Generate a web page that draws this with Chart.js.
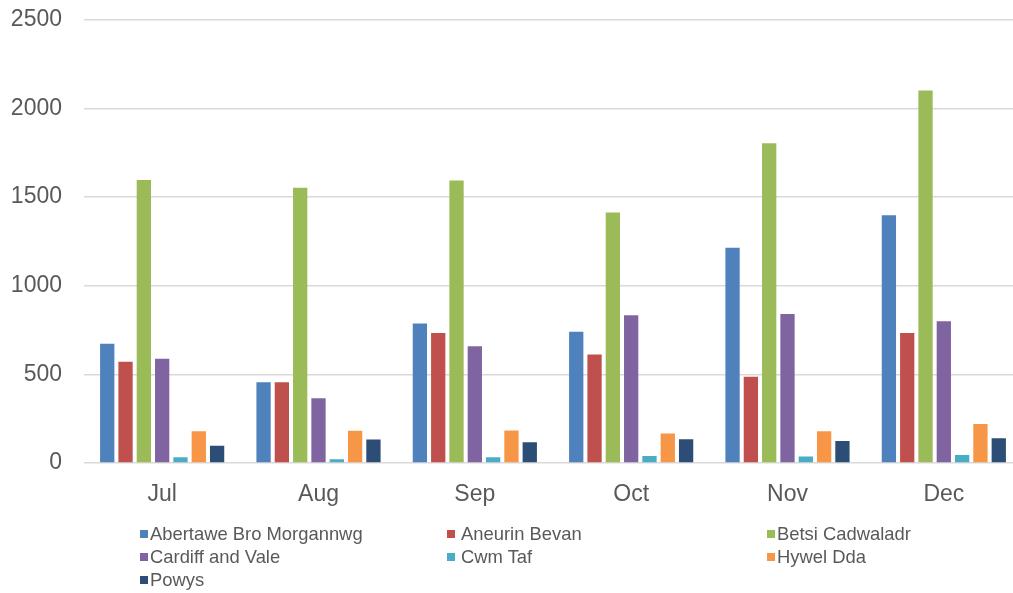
<!DOCTYPE html>
<html><head><meta charset="utf-8">
<script src="https://cdn.jsdelivr.net/npm/chart.js@4"></script>
<style>
html,body{margin:0;padding:0;background:#fff;overflow:hidden;width:1013px;height:593px}
#wrap{position:absolute;left:0;top:-16px;width:1022px;height:536px}
#legend{position:absolute;left:0;top:0;width:1013px;height:593px;pointer-events:none;font-family:"Liberation Sans",Arial,sans-serif;font-size:18.4px;color:#595959}
.item{position:absolute;display:flex;align-items:center;white-space:nowrap;height:23px;line-height:23px}
.sw{width:8px;height:8px;flex:none}
</style></head><body>
<div id="wrap"><canvas id="c"></canvas></div>
<div id="legend"></div>
<script>
const months = ['Jul','Aug','Sep','Oct','Nov','Dec'];
const seriesNames = ['Abertawe Bro Morgannwg','Aneurin Bevan','Betsi Cadwaladr','Cardiff and Vale','Cwm Taf','Hywel Dda','Powys'];
const abertawe = [672,455,787,740,1214,1398];
const aneurin = [571,455,733,612,487,733];
const betsi = [1597,1552,1593,1413,1804,2101];
const cardiff = [588,365,658,834,840,800];
const cwmTaf = [32,21,32,39,36,45];
const hywel = [179,182,184,167,179,220];
const powys = [98,133,117,134,124,139];
const yTicks = [0,500,1000,1500,2000,2500];

const colors = ['#4F81BD','#C0504D','#9BBB59','#8064A2','#4BACC6','#F79646','#2C4D75'];
const values = [abertawe,aneurin,betsi,cardiff,cwmTaf,hywel,powys];
const font = "'Liberation Sans', Arial, sans-serif";

const datasets = seriesNames.map((n,i)=>({
  label:n, data:values[i], backgroundColor:colors[i], borderWidth:0,
  categoryPercentage:0.82, barPercentage:0.78
}));

const chart = new Chart(document.getElementById('c'), {
  type:'bar',
  data:{labels:months, datasets},
  options:{
    responsive:true, maintainAspectRatio:false, animation:false,
    layout:{padding:{top:4,left:0,right:0,bottom:0}},
    plugins:{legend:{display:false}, tooltip:{enabled:false}},
    scales:{
      x:{
        grid:{display:false, drawTicks:false},
        border:{display:false},
        ticks:{color:'#595959', font:{family:font,size:23}, padding:18},
        afterFit:(s)=>{s.height=57;}
      },
      y:{
        min:0, max:2500,
        afterBuildTicks:(s)=>{s.ticks=yTicks.map(v=>({value:v}));},
        grid:{color:'#d9d9d9', lineWidth:1.5, drawTicks:false},
        border:{display:false},
        ticks:{color:'#595959', font:{family:font,size:23}, padding:22, callback:(v)=>String(v)},
        afterFit:(s)=>{s.width=84;}
      }
    }
  }
});

// HTML legend built from chart datasets
const colLefts=[140,447,767];
const colGaps=[2,6,2];
const rowTops=[522,545,568];
const lg=document.getElementById('legend');
chart.data.datasets.forEach((d,i)=>{
  const it=document.createElement('div');
  it.className='item';
  it.style.left=colLefts[i%3]+'px';
  it.style.top=rowTops[Math.floor(i/3)]+'px';
  const sw=document.createElement('span');
  sw.className='sw'; sw.style.background=d.backgroundColor;
  sw.style.marginRight=colGaps[i%3]+'px';
  const tx=document.createElement('span'); tx.textContent=d.label;
  it.appendChild(sw); it.appendChild(tx); lg.appendChild(it);
});
</script>
</body></html>
